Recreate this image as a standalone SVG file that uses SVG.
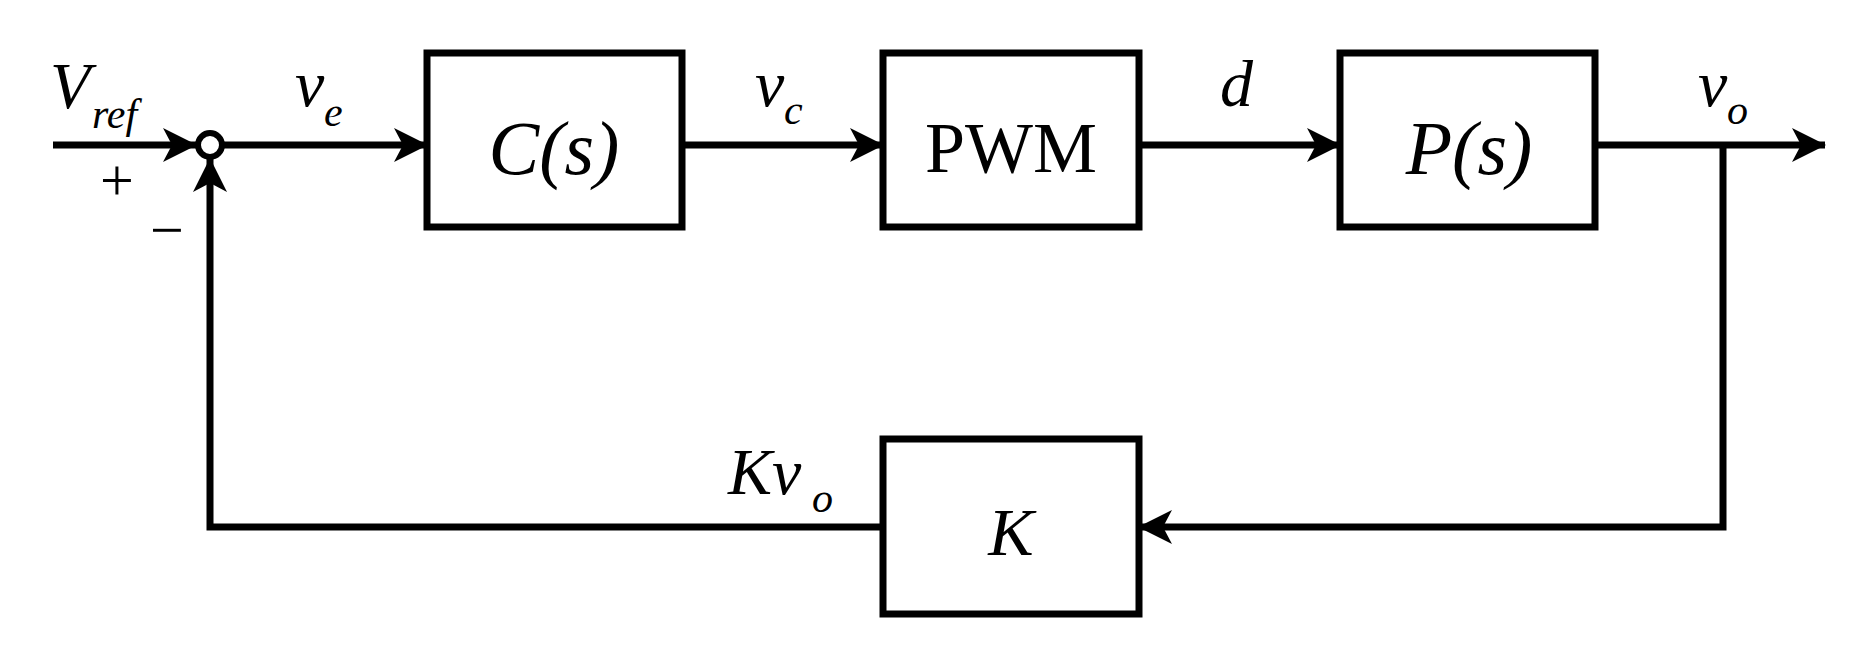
<svg xmlns="http://www.w3.org/2000/svg" width="1850" height="660" viewBox="0 0 1850 660">
<style>
.b{fill:#fff;stroke:#000;stroke-width:7}
.l{fill:none;stroke:#000;stroke-width:7}
text{font-family:"Liberation Serif","Times New Roman",serif;fill:#000}
.i{font-style:italic}
</style>
<defs>
<marker id="ar" viewBox="0 0 34 34" refX="33" refY="17" markerWidth="34" markerHeight="34" orient="auto" markerUnits="userSpaceOnUse"><path d="M0,0L34,17L0,34L9,17Z"/></marker></defs>
<rect width="1850" height="660" fill="#fff"/>
<g id="connectors">
<path class="l" d="M53,145H196" marker-end="url(#ar)"/>
<path class="l" d="M224,145H427" marker-end="url(#ar)"/>
<path class="l" d="M682,145H883" marker-end="url(#ar)"/>
<path class="l" d="M1139,145H1340" marker-end="url(#ar)"/>
<path class="l" d="M1595,145H1825" marker-end="url(#ar)"/>
<path class="l" d="M1723,145V527H1139" marker-end="url(#ar)"/>
<path class="l" d="M883,527H210V159" marker-end="url(#ar)"/>
</g>
<g id="sum"><circle cx="210" cy="145" r="12" fill="#fff" stroke="#000" stroke-width="6"/>
<text x="100" y="200" font-size="60">+</text><text x="150" y="250" font-size="60">−</text></g>
<g id="C"><rect class="b" x="427" y="53" width="255" height="174"/><text class="i" x="554" y="174" font-size="76" text-anchor="middle">C(s)</text></g>
<g id="PWM"><rect class="b" x="883" y="53" width="256" height="174"/><text x="1011" y="172" font-size="72" text-anchor="middle">PWM</text></g>
<g id="P"><rect class="b" x="1340" y="53" width="255" height="174"/><text class="i" x="1469" y="174" font-size="76" text-anchor="middle">P(s)</text></g>
<g id="K"><rect class="b" x="883" y="439" width="256" height="175"/><text class="i" x="1011" y="555" font-size="68" text-anchor="middle">K</text></g>
<g id="labels">
<text class="i" x="50" y="108" font-size="66">V</text><text class="i" x="92" y="128" font-size="42">ref</text>
<text class="i" x="295" y="106" font-size="66">v</text><text class="i" x="324" y="126" font-size="42">e</text>
<text class="i" x="755" y="106" font-size="66">v</text><text class="i" x="784" y="124" font-size="42">c</text>
<text class="i" x="1220" y="106" font-size="66">d</text>
<text class="i" x="1698" y="106" font-size="66">v</text><text class="i" x="1727" y="124" font-size="42">o</text>
<text class="i" x="728" y="494" font-size="66">Kv</text><text class="i" x="812" y="512" font-size="42">o</text>
</g>
</svg>
